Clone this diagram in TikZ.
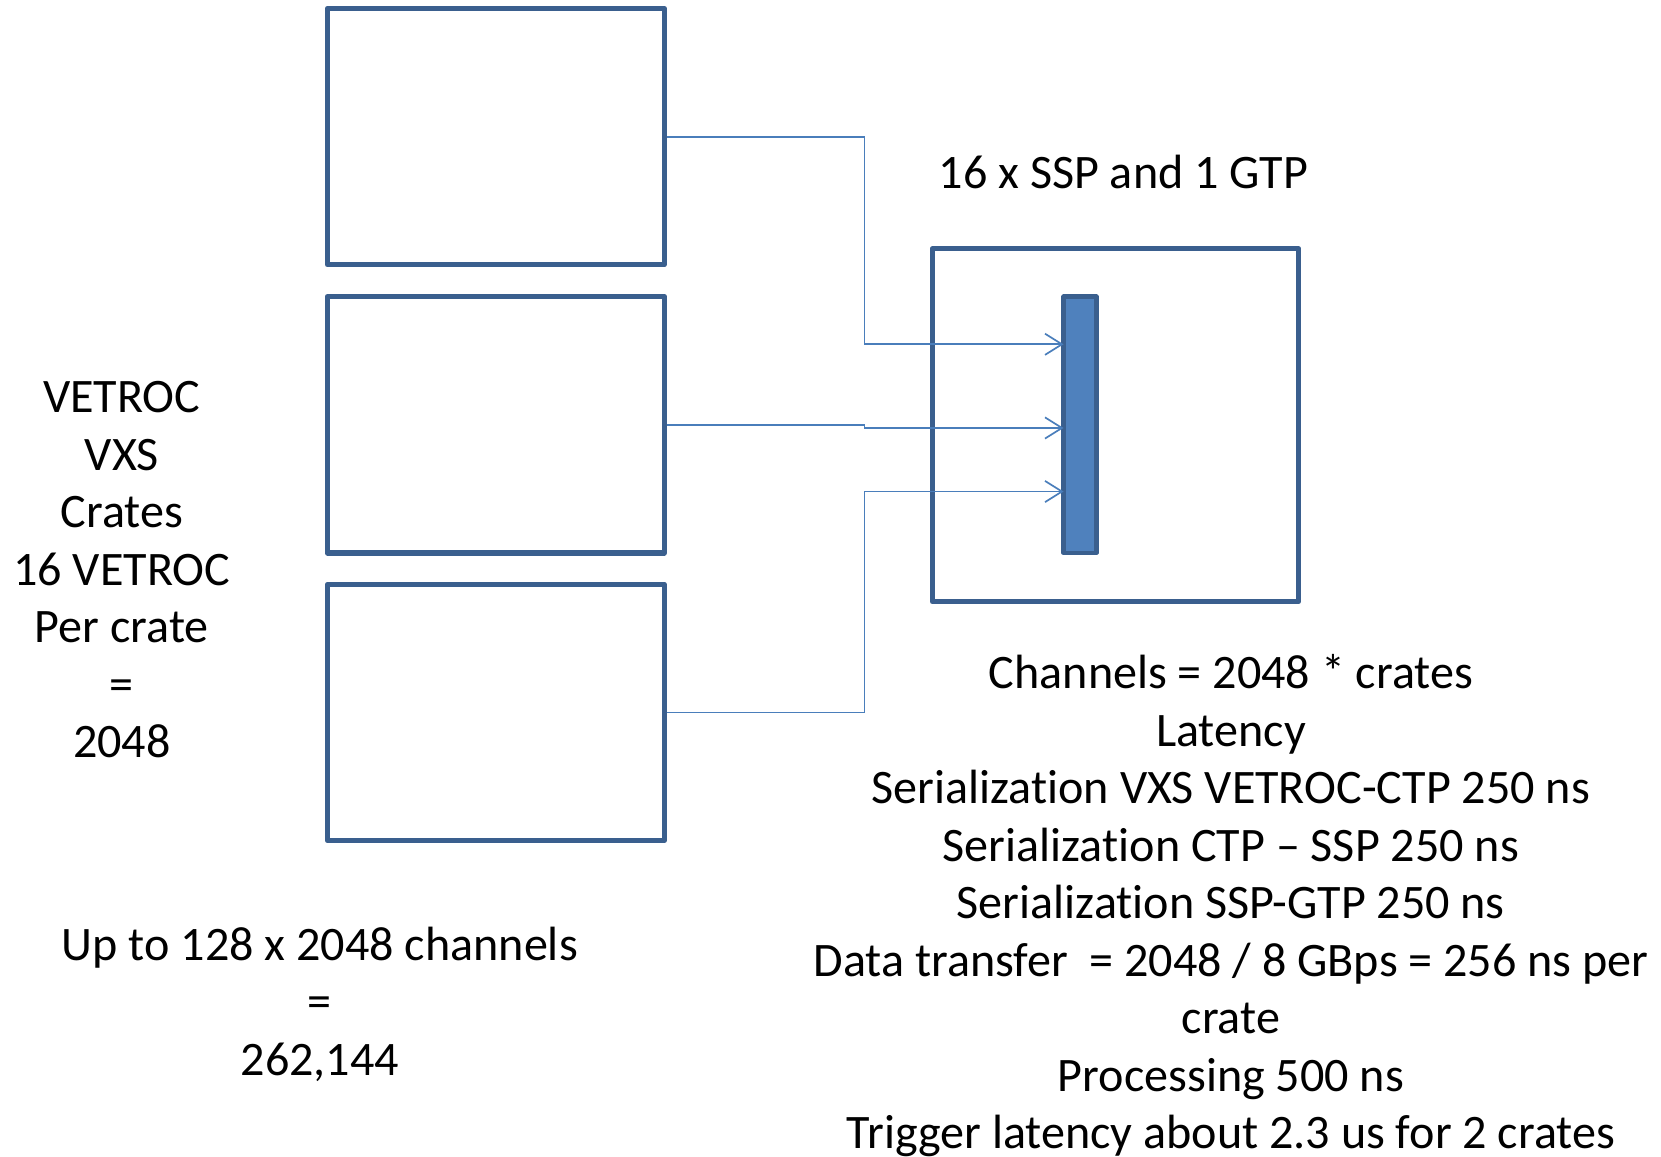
\documentclass[tikz,border=0pt]{standalone}
\usepackage{fontspec}
\setmainfont[Ligatures=NoCommon]{Carlito}
\usetikzlibrary{arrows.meta}
\definecolor{boxedge}{HTML}{3A5F8E}
\definecolor{barfill}{HTML}{4F81BD}
\definecolor{wire}{HTML}{4A7EBB}
\begin{document}
\begin{tikzpicture}[x=0.5pt,y=-0.5pt,
  crate/.style={draw=boxedge, line width=2.4pt, line join=round, inner sep=0pt,
                minimum width=159pt, minimum height=121pt},
  hub/.style={draw=boxedge, line width=2.4pt, line join=round, inner sep=0pt,
              minimum width=173pt, minimum height=166.5pt},
  bus/.style={draw=boxedge, fill=barfill, line width=2pt, line join=round, inner sep=0pt,
              minimum width=15.5pt, minimum height=121pt},
  conn/.style={draw=wire, line width=0.8pt, -{Straight Barb[length=8pt,width=10pt,line width=0.8pt]}},
  txt/.style={align=center, inner sep=0pt, font=\fontsize{22.7}{27.15}\selectfont}]
  \useasboundingbox (0,0) rectangle (1568,1092);

  % crates on the left
  \node[crate] (c1) at (468,129) {};
  \node[crate] (c2) at (468,401) {};
  \node[crate] (c3) at (468,672.5) {};

  % trigger crate with its backplane bar
  \node[hub] (hub) at (1053,401.5) {};
  \node[bus] (bus) at (1019.5,401) {};

  % junction column of the connectors
  \coordinate (jx) at (816,0);
  \coordinate (in1) at (1004,325);
  \coordinate (in2) at (1004,404);
  \coordinate (in3) at (1004,464);

  \draw[conn] (c1.east) -- (c1.east -| jx) |- (in1);
  \draw[conn] (c2.east) -- (c2.east -| jx) -- ++(0,3) -- (in2);
  \draw[conn] (c3.east) -- (c3.east -| jx) |- (in3);

  % labels
  \node[txt] (title) at (1060.5,162) {16 x SSP and 1 GTP};
  \node[txt] (left) at (115,538) {VETROC\\VXS\\Crates\\16 VETROC\\Per crate\\=\\2048};
  \node[txt] (total) at (302,948) {Up to 128 x 2048 channels\\=\\262,144};
  \node[txt] (notes) at (1162,855) {Channels = 2048 * crates\\Latency\\Serialization VXS VETROC-CTP 250 ns\\Serialization CTP – SSP 250 ns\\Serialization SSP-GTP 250 ns\\Data transfer \ = 2048 / 8 GBps = 256 ns per\\crate\\Processing 500 ns\\Trigger latency about 2.3 us for 2 crates};
\end{tikzpicture}
\end{document}
